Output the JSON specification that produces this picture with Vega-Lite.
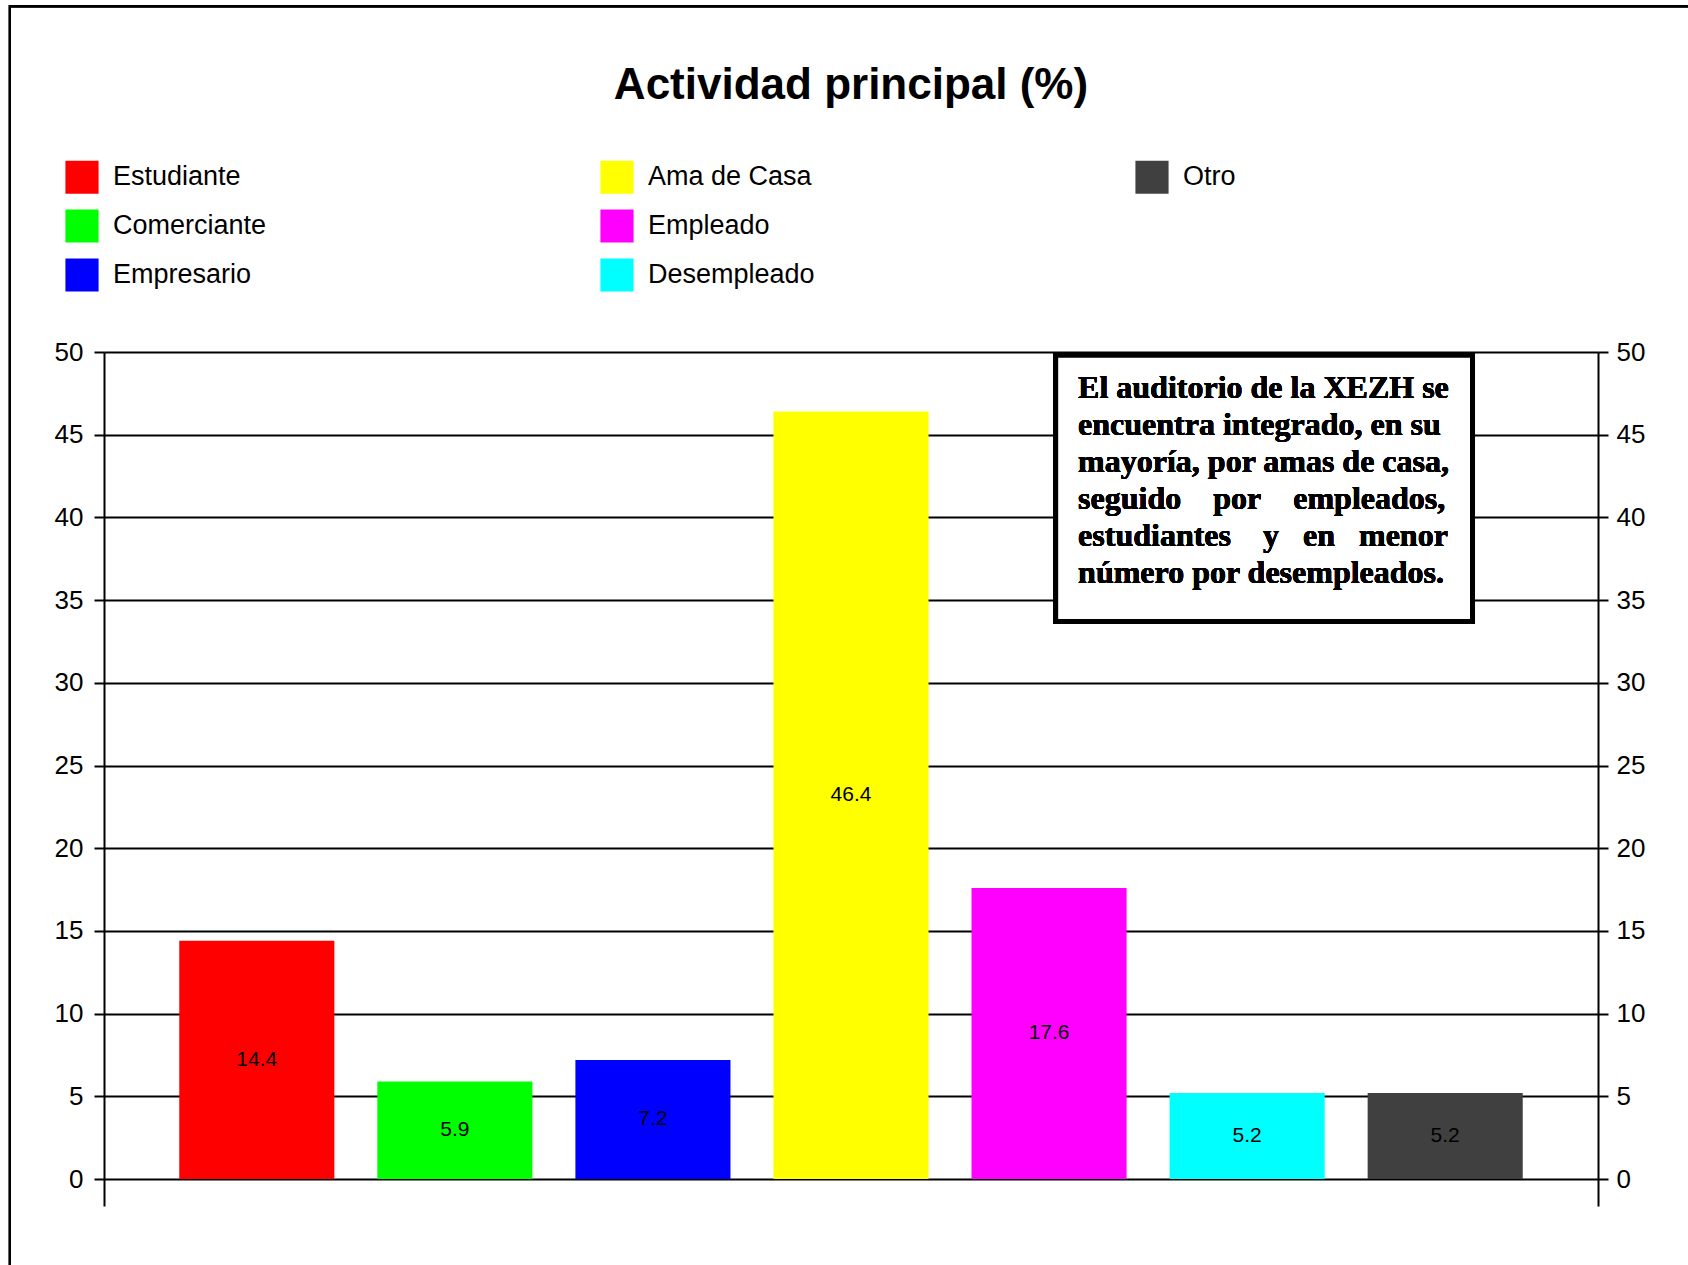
{
  "$schema": "https://vega.github.io/schema/vega-lite/v6.json",
  "width": 1494,
  "height": 854,
  "autosize": {"type": "none"},
  "padding": {"left": 104, "top": 352, "right": 90, "bottom": 59},
  "background": "#ffffff",
  "config": {"view": {"stroke": null}, "font": "Liberation Sans"},
  "title": {
    "text": "Actividad principal (%)",
    "font": "Liberation Sans",
    "fontSize": 44,
    "fontWeight": "bold",
    "color": "#000000",
    "anchor": "middle",
    "frame": "group",
    "offset": -103
  },
  "data": {
    "values": [
      {"actividad": "Estudiante", "porcentaje": 14.4},
      {"actividad": "Comerciante", "porcentaje": 5.9},
      {"actividad": "Empresario", "porcentaje": 7.2},
      {"actividad": "Ama de Casa", "porcentaje": 46.4},
      {"actividad": "Empleado", "porcentaje": 17.6},
      {"actividad": "Desempleado", "porcentaje": 5.2},
      {"actividad": "Otro", "porcentaje": 5.2}
    ]
  },
  "layer": [
    {
      "mark": {"type": "bar"},
      "encoding": {
        "x": {
          "field": "actividad", "type": "nominal", "sort": null,
          "scale": {"type": "band", "paddingInner": 0.217, "paddingOuter": 0.38},
          "axis": null
        },
        "y": {
          "field": "porcentaje", "type": "quantitative",
          "scale": {"domain": [-1.63, 50], "nice": false, "zero": false},
          "axis": {
            "orient": "left", "title": null,
            "values": [0, 5, 10, 15, 20, 25, 30, 35, 40, 45, 50],
            "grid": true, "gridColor": "#000000", "gridWidth": 2, "gridOpacity": 1,
            "domainColor": "#000000", "domainWidth": 2,
            "tickColor": "#000000", "tickWidth": 2, "tickSize": 10,
            "labelFont": "Liberation Sans", "labelFontSize": 26, "labelColor": "#000000",
            "labelPadding": 11
          }
        },
        "y2": {"datum": 0},
        "color": {
          "field": "actividad", "type": "nominal",
          "scale": {
            "domain": ["Estudiante", "Comerciante", "Empresario", "Ama de Casa", "Empleado", "Desempleado", "Otro", " "],
            "range": ["#ff0000", "#00ff00", "#0000ff", "#ffff00", "#ff00ff", "#00ffff", "#404040", "transparent"]
          },
          "legend": {
            "orient": "none", "legendX": -39, "legendY": -192, "direction": "vertical",
            "columns": 3, "gridAlign": "all", "columnPadding": 320, "rowPadding": 15,
            "symbolType": "square", "symbolSize": 1100, "symbolStrokeWidth": 0, "symbolOpacity": 1,
            "labelFont": "Liberation Sans", "labelFontSize": 27, "labelOffset": 14, "labelColor": "#000000",
            "labelLimit": 400,
            "title": null
          }
        }
      }
    },
    {
      "mark": {"type": "text", "fontSize": 21, "color": "#000000", "baseline": "middle", "align": "center"},
      "encoding": {
        "x": {
          "field": "actividad", "type": "nominal", "sort": null,
          "scale": {"type": "band", "paddingInner": 0.217, "paddingOuter": 0.38},
          "bandPosition": 0.5,
          "axis": null
        },
        "y": {
          "field": "porcentaje", "type": "quantitative",
          "scale": {"domain": [-3.26, 100], "nice": false, "zero": false},
          "axis": null
        },
        "text": {"field": "porcentaje", "type": "quantitative", "format": ".1f"}
      }
    },
    {
      "layer": [
        {
          "mark": {"type": "rect", "fill": "#ffffff", "stroke": "#000000", "strokeWidth": 5},
          "encoding": {
            "x": {"datum": 0.637, "type": "quantitative", "scale": {"domain": [0, 1], "nice": false, "zero": false}, "axis": null},
            "x2": {"datum": 0.916},
            "y": {
              "datum": 49.8, "type": "quantitative",
              "scale": {"domain": [-1.63, 50], "nice": false, "zero": false},
              "axis": {
                "orient": "right", "title": null,
                "values": [0, 5, 10, 15, 20, 25, 30, 35, 40, 45, 50],
                "grid": false,
                "domainColor": "#000000", "domainWidth": 2,
                "tickColor": "#000000", "tickWidth": 2, "tickSize": 10,
                "labelFont": "Liberation Sans", "labelFontSize": 26, "labelColor": "#000000",
                "labelPadding": 8
              }
            },
            "y2": {"datum": 33.7}
          }
        },
        {
          "mark": {
            "type": "text", "align": "left", "baseline": "top",
            "font": "Liberation Serif", "fontWeight": "bold", "fontSize": 32, "lineHeight": 37,
            "color": "#000000",
            "text": [
              "El auditorio de la XEZH se",
              "encuentra integrado, en su",
              "mayoría, por amas de casa,",
              "seguido\u00a0\u00a0\u00a0\u00a0por\u00a0\u00a0\u00a0\u00a0empleados,",
              "estudiantes\u00a0\u00a0\u00a0\u00a0y\u00a0\u00a0\u00a0en\u00a0\u00a0\u00a0menor",
              "número por desempleados."
            ]
          },
          "encoding": {
            "x": {"datum": 0.652, "type": "quantitative"},
            "y": {"datum": 48.75, "type": "quantitative"}
          }
        },
        {
          "mark": {"type": "rect", "fill": "transparent", "stroke": "#000000", "strokeWidth": 2},
          "encoding": {
            "x": {"datum": -0.063, "type": "quantitative"},
            "x2": {"datum": 1.2},
            "y": {"datum": 70.9, "type": "quantitative"},
            "y2": {"datum": -30}
          }
        }
      ]
    }
  ],
  "resolve": {"scale": {"x": "independent", "y": "independent"}}
}
